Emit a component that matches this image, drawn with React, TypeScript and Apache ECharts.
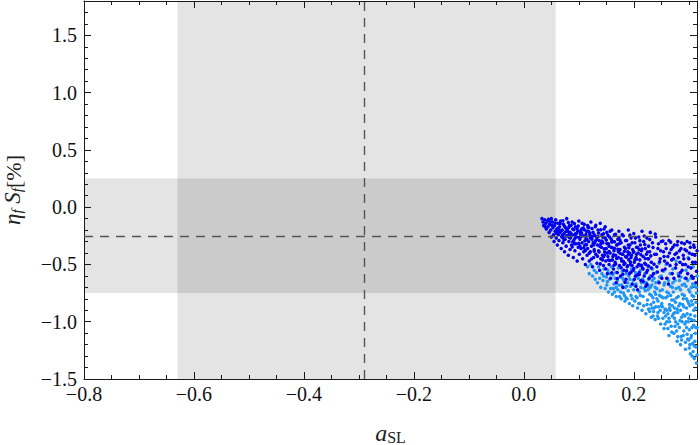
import React, { useEffect, useRef } from "react";
import * as echarts from "echarts";

// axis ranges and ticks
const X_MIN = -0.8;
const X_MAX = 0.315;
const X_MAJOR = 0.2;
const X_MINOR = 0.05;
const Y_MIN = -1.5;
const Y_MAX = 1.8;
const Y_MAJOR = 0.5;
const Y_MINOR = 0.1;

// shaded 1-sigma bands and central (dashed) values
const X_BAND = [-0.63, 0.058];
const Y_BAND = [-0.75, 0.25];
const X_CENTER = -0.29;
const Y_CENTER = -0.25;

// scan points (a_SL, eta_f S_f [%]) - dark blue set
const darkPoints: number[][] = [
  [0.033,-0.10],[0.035,-0.13],[0.036,-0.16],[0.038,-0.11],[0.04,-0.14],[0.041,-0.19],[0.043,-0.12],[0.044,-0.17],[0.046,-0.22],[0.047,-0.15],[0.049,-0.2],[0.05,-0.1],[0.05,-0.26],
  [0.052,-0.13],[0.053,-0.18],[0.054,-0.24],[0.055,-0.3],[0.056,-0.16],[0.057,-0.21],[0.058,-0.11],[0.059,-0.27],[0.06,-0.19],[0.061,-0.33],[0.062,-0.14],[0.063,-0.24],[0.064,-0.29],[0.065,-0.17],[0.066,-0.22],[0.067,-0.12],[0.068,-0.36],[0.069,-0.26],[0.07,-0.2],
  [0.071,-0.31],[0.072,-0.15],[0.073,-0.23],[0.074,-0.39],[0.075,-0.28],[0.076,-0.18],[0.077,-0.34],[0.078,-0.1],[0.079,-0.25],[0.08,-0.21],[0.081,-0.42],[0.082,-0.3],[0.083,-0.16],[0.084,-0.37],[0.085,-0.27],[0.086,-0.23],[0.087,-0.33],[0.088,-0.13],[0.089,-0.19],[0.09,-0.44],
  [0.091,-0.29],[0.092,-0.24],[0.093,-0.38],[0.094,-0.17],[0.095,-0.32],[0.096,-0.26],[0.097,-0.47],[0.098,-0.21],[0.099,-0.35],[0.1,-0.12],[0.101,-0.41],[0.102,-0.28],[0.103,-0.23],[0.104,-0.36],[0.105,-0.19],[0.106,-0.31],[0.107,-0.45],[0.108,-0.25],[0.109,-0.39],[0.11,-0.15],
  [0.111,-0.33],[0.112,-0.5],[0.113,-0.27],[0.114,-0.21],[0.115,-0.42],[0.116,-0.36],[0.117,-0.18],[0.118,-0.3],[0.119,-0.47],[0.12,-0.24],[0.121,-0.39],[0.122,-0.13],[0.123,-0.34],[0.124,-0.28],[0.125,-0.52],[0.126,-0.22],[0.127,-0.44],[0.128,-0.37],[0.129,-0.31],[0.13,-0.17],
  [0.131,-0.41],[0.132,-0.26],[0.133,-0.49],[0.134,-0.33],[0.135,-0.2],[0.136,-0.38],[0.137,-0.29],[0.138,-0.55],[0.139,-0.14],[0.14,-0.45],[0.141,-0.35],[0.142,-0.24],[0.143,-0.42],[0.144,-0.31],[0.145,-0.51],[0.146,-0.19],[0.147,-0.39],[0.148,-0.27],[0.149,-0.47],[0.15,-0.36],
  [0.151,-0.22],[0.152,-0.58],[0.153,-0.43],[0.154,-0.32],[0.155,-0.5],[0.156,-0.26],[0.157,-0.4],[0.158,-0.62],[0.159,-0.35],[0.16,-0.2],[0.161,-0.46],[0.162,-0.3],[0.163,-0.54],[0.164,-0.38],[0.165,-0.24],[0.166,-0.48],[0.167,-0.42],[0.168,-0.66],[0.169,-0.33],[0.17,-0.57],
  [0.171,-0.28],[0.172,-0.44],[0.173,-0.21],[0.174,-0.51],[0.175,-0.37],[0.176,-0.6],[0.177,-0.31],[0.178,-0.47],[0.179,-0.41],[0.18,-0.7],[0.181,-0.25],[0.182,-0.55],[0.183,-0.35],[0.184,-0.49],[0.185,-0.43],[0.186,-0.63],[0.187,-0.29],[0.188,-0.52],[0.189,-0.39],[0.19,-0.2],
  [0.191,-0.46],[0.192,-0.58],[0.193,-0.33],[0.194,-0.5],[0.195,-0.27],[0.196,-0.42],[0.197,-0.67],[0.198,-0.37],[0.199,-0.55],[0.2,-0.23],[0.201,-0.48],[0.202,-0.31],[0.203,-0.6],[0.204,-0.44],[0.205,-0.35],[0.206,-0.52],[0.207,-0.72],[0.208,-0.4],[0.209,-0.26],[0.21,-0.57],
  [0.211,-0.46],[0.212,-0.33],[0.213,-0.64],[0.214,-0.38],[0.215,-0.21],[0.216,-0.53],[0.217,-0.43],[0.218,-0.3],[0.219,-0.6],[0.22,-0.49],[0.221,-0.36],[0.222,-0.69],[0.223,-0.41],[0.224,-0.27],[0.225,-0.55],[0.226,-0.45],[0.227,-0.34],[0.228,-0.62],[0.229,-0.39],[0.23,-0.22],
  [0.232,-0.48],[0.234,-0.31],[0.236,-0.58],[0.238,-0.41],[0.24,-0.26],[0.242,-0.52],[0.244,-0.36],[0.246,-0.66],[0.248,-0.45],[0.25,-0.3],
  [0.252,-0.55],[0.254,-0.39],[0.256,-0.47],[0.258,-0.32],[0.26,-0.62],[0.262,-0.43],[0.264,-0.29],[0.266,-0.51],[0.268,-0.37],[0.27,-0.58],
  [0.272,-0.45],[0.274,-0.33],[0.276,-0.53],[0.278,-0.4],[0.28,-0.3],[0.282,-0.6],[0.284,-0.48],[0.286,-0.36],[0.288,-0.55],[0.29,-0.42],
  [0.292,-0.32],[0.294,-0.5],[0.296,-0.38],[0.298,-0.58],[0.3,-0.45],[0.302,-0.31],[0.304,-0.53],[0.306,-0.41],[0.308,-0.62],[0.31,-0.35],[0.312,-0.48],[0.314,-0.56],
  [0.045,-0.105],[0.048,-0.128],[0.039,-0.172],[0.051,-0.157],[0.057,-0.138],[0.062,-0.183],[0.059,-0.228],[0.066,-0.142],[0.071,-0.119],[0.068,-0.205],[0.074,-0.167],[0.077,-0.251],[0.073,-0.286],[0.081,-0.133],[0.079,-0.192],[0.084,-0.218],[0.086,-0.158],[0.083,-0.264],[0.089,-0.301],[0.092,-0.143],[0.088,-0.347],[0.094,-0.233],[0.097,-0.188],[0.093,-0.272],[0.1,-0.316],[0.099,-0.165],[0.103,-0.208],[0.106,-0.141],[0.104,-0.257],[0.108,-0.182],[0.111,-0.294],[0.113,-0.238],[0.109,-0.355],[0.116,-0.161],[0.114,-0.327],[0.118,-0.212],[0.121,-0.268],[0.119,-0.402],[0.124,-0.186],[0.126,-0.311],[0.123,-0.452],[0.129,-0.244],[0.131,-0.158],[0.128,-0.385],[0.133,-0.282],[0.136,-0.225],[0.134,-0.428],[0.138,-0.341],[0.14,-0.197],[0.142,-0.296],[0.139,-0.495],[0.144,-0.263],[0.146,-0.362],[0.148,-0.171],[0.145,-0.433],[0.151,-0.318],[0.153,-0.246],[0.149,-0.538],[0.155,-0.387],[0.157,-0.209],[0.154,-0.462],[0.159,-0.279],[0.161,-0.354],[0.163,-0.416],[0.16,-0.573],[0.165,-0.301],[0.167,-0.236],[0.164,-0.507],[0.169,-0.447],[0.171,-0.367],[0.173,-0.266],[0.17,-0.622],[0.175,-0.402],[0.177,-0.529],[0.174,-0.318],[0.179,-0.238],[0.181,-0.473],[0.183,-0.384],[0.18,-0.585],[0.185,-0.29],[0.187,-0.438],[0.184,-0.655],[0.189,-0.512],[0.191,-0.354],[0.193,-0.244],[0.19,-0.415],[0.195,-0.567],[0.197,-0.31],[0.194,-0.478],[0.199,-0.393],[0.201,-0.63],[0.203,-0.27],[0.2,-0.535],[0.205,-0.455],[0.207,-0.352],[0.204,-0.69],[0.209,-0.499],[0.211,-0.292],[0.213,-0.415],[0.21,-0.588],[0.215,-0.366],[0.217,-0.646],[0.214,-0.507],[0.219,-0.252],[0.221,-0.448],[0.223,-0.571],[0.22,-0.325],[0.225,-0.392],[0.227,-0.513],[0.224,-0.672],[0.229,-0.283],
  [0.231,-0.425],[0.233,-0.6],[0.235,-0.352],[0.237,-0.498],[0.239,-0.235],[0.241,-0.41],[0.243,-0.565],[0.245,-0.32],[0.247,-0.476],[0.249,-0.38],[0.251,-0.62],[0.253,-0.296],[0.255,-0.43],[0.257,-0.54],[0.259,-0.36],[0.261,-0.49],[0.263,-0.67],[0.265,-0.4],[0.267,-0.305],[0.269,-0.46],[0.271,-0.35],[0.273,-0.62],[0.275,-0.41],[0.277,-0.5],[0.279,-0.33],[0.281,-0.44],[0.283,-0.38],[0.285,-0.57],[0.287,-0.31],[0.289,-0.5],[0.291,-0.45],[0.293,-0.37],[0.295,-0.62],[0.297,-0.3],[0.299,-0.52],[0.301,-0.4],[0.303,-0.35],[0.305,-0.6],[0.307,-0.48],[0.309,-0.33],[0.311,-0.42],[0.313,-0.66],[0.315,-0.38],
  [0.064,-0.198],[0.07,-0.245],[0.076,-0.214],[0.082,-0.175],[0.087,-0.247],[0.091,-0.196],[0.096,-0.228],[0.101,-0.262],[0.105,-0.224],[0.11,-0.197],[0.115,-0.285],[0.12,-0.226],[0.125,-0.253],[0.13,-0.296],[0.135,-0.255],[0.14,-0.32],[0.145,-0.231],[0.15,-0.287],[0.155,-0.34],[0.16,-0.304],[0.165,-0.358],[0.17,-0.325],[0.175,-0.289],[0.18,-0.41],[0.185,-0.36],[0.19,-0.33],[0.195,-0.44],[0.2,-0.39],[0.205,-0.41],[0.21,-0.37],[0.118,-0.175],[0.127,-0.33],[0.137,-0.392],[0.147,-0.415],[0.157,-0.465],[0.167,-0.495],[0.177,-0.45],[0.187,-0.555],[0.197,-0.51],[0.207,-0.59],[0.217,-0.54],[0.227,-0.45],[0.112,-0.377],[0.102,-0.339],[0.092,-0.32],[0.082,-0.239],[0.072,-0.268],[0.062,-0.213],[0.143,-0.46],[0.152,-0.4],[0.162,-0.43],[0.172,-0.39],[0.182,-0.5],[0.192,-0.4],[0.202,-0.46],[0.212,-0.51],[0.222,-0.5],[0.232,-0.53],
];

// scan points - light blue set
const lightPoints: number[][] = [
  [0.116,-0.52],[0.119,-0.58],[0.122,-0.5],[0.125,-0.6],[0.128,-0.55],[0.13,-0.63],
  [0.132,-0.57],[0.134,-0.66],[0.136,-0.52],[0.138,-0.62],[0.14,-0.7],[0.142,-0.58],[0.144,-0.64],[0.146,-0.54],[0.148,-0.71],[0.15,-0.61],
  [0.151,-0.68],[0.153,-0.55],[0.154,-0.74],[0.156,-0.63],[0.158,-0.71],[0.159,-0.52],[0.161,-0.76],[0.162,-0.59],[0.164,-0.67],[0.165,-0.74],[0.167,-0.57],[0.168,-0.78],[0.17,-0.64],
  [0.171,-0.72],[0.172,-0.53],[0.174,-0.78],[0.175,-0.61],[0.177,-0.8],[0.178,-0.68],[0.179,-0.56],[0.181,-0.75],[0.182,-0.64],[0.184,-0.82],[0.185,-0.7],[0.186,-0.58],[0.188,-0.8],[0.189,-0.66],[0.19,-0.73],
  [0.191,-0.6],[0.192,-0.84],[0.194,-0.69],[0.195,-0.77],[0.196,-0.54],[0.198,-0.86],[0.199,-0.64],[0.2,-0.72],[0.202,-0.82],[0.203,-0.57],[0.204,-0.67],[0.206,-0.79],[0.207,-0.88],[0.208,-0.62],[0.21,-0.74],
  [0.211,-0.84],[0.212,-0.55],[0.213,-0.7],[0.215,-0.9],[0.216,-0.63],[0.217,-0.78],[0.218,-0.86],[0.22,-0.58],[0.221,-0.73],[0.222,-0.93],[0.223,-0.66],[0.225,-0.81],[0.226,-0.52],[0.227,-0.89],[0.228,-0.69],[0.229,-0.76],[0.23,-0.6],
  [0.231,-0.85],[0.232,-0.96],[0.233,-0.68],[0.234,-0.54],[0.235,-0.79],[0.236,-0.91],[0.237,-0.62],[0.238,-0.74],[0.239,-0.98],[0.24,-0.87],[0.241,-0.57],[0.242,-0.71],[0.243,-0.95],[0.244,-0.82],[0.245,-0.65],[0.246,-0.49],[0.247,-0.77],[0.248,-0.9],[0.249,-1.02],[0.25,-0.6],
  [0.251,-0.84],[0.252,-0.72],[0.253,-0.97],[0.254,-0.56],[0.255,-1.06],[0.256,-0.66],[0.257,-0.89],[0.258,-0.79],[0.259,-0.5],[0.26,-1.0],[0.261,-0.62],[0.262,-0.93],[0.263,-0.75],[0.264,-1.12],[0.265,-0.85],[0.266,-0.58],[0.267,-0.69],[0.268,-1.04],[0.269,-0.81],[0.27,-0.95],
  [0.271,-0.54],[0.272,-0.74],[0.273,-1.1],[0.274,-0.88],[0.275,-0.64],[0.276,-1.0],[0.277,-0.47],[0.278,-0.79],[0.279,-1.17],[0.28,-0.92],[0.281,-0.58],[0.282,-0.7],[0.283,-1.05],[0.284,-0.84],[0.285,-1.2],[0.286,-0.61],[0.287,-0.96],[0.288,-0.76],[0.289,-0.5],[0.29,-1.12],
  [0.291,-0.87],[0.292,-0.67],[0.293,-1.02],[0.294,-1.24],[0.295,-0.55],[0.296,-0.8],[0.297,-0.93],[0.298,-1.15],[0.299,-0.44],[0.3,-0.72],[0.301,-1.07],[0.302,-0.86],[0.303,-1.28],[0.304,-0.62],[0.305,-0.98],[0.306,-0.77],[0.307,-1.19],[0.308,-0.52],[0.309,-0.9],[0.31,-1.32],[0.311,-0.69],[0.312,-1.1],[0.313,-0.83],[0.314,-1.36],[0.315,-0.6],
  [0.226,-0.72],[0.233,-0.88],[0.24,-0.66],[0.244,-0.92],[0.252,-0.87],[0.257,-1.02],[0.261,-0.78],[0.266,-0.9],[0.27,-0.7],[0.274,-0.97],[0.278,-1.08],[0.282,-0.86],[0.286,-1.13],[0.29,-0.8],[0.293,-0.62],[0.296,-1.05],[0.3,-0.97],[0.302,-1.2],[0.305,-0.7],[0.307,-0.85],[0.309,-1.03],[0.311,-0.95],[0.313,-1.22],[0.314,-0.75],[0.298,-0.82],[0.288,-1.0],[0.276,-0.83],[0.264,-0.97],[0.248,-0.73],[0.236,-0.83],[0.204,-0.78],[0.186,-0.79],[0.168,-0.7],
  [0.145,-0.6],[0.152,-0.65],[0.157,-0.58],[0.163,-0.71],[0.166,-0.62],[0.173,-0.68],[0.176,-0.74],[0.18,-0.62],[0.183,-0.77],[0.187,-0.69],[0.193,-0.63],[0.197,-0.8],[0.201,-0.68],[0.205,-0.6],[0.209,-0.84],[0.212,-0.77],[0.214,-0.66],[0.219,-0.71],[0.224,-0.85],[0.227,-0.63],[0.229,-0.91],[0.232,-0.77],[0.234,-0.64],[0.237,-0.88],[0.239,-0.7],[0.242,-0.8],[0.245,-0.97],[0.247,-0.61],[0.25,-0.86],[0.253,-0.79],[0.255,-0.68],[0.258,-0.95],[0.26,-0.74],[0.262,-1.06],[0.263,-0.64],[0.265,-0.88],[0.267,-0.77],[0.269,-1.09],[0.271,-0.66],[0.272,-0.93],[0.273,-0.81],[0.275,-1.04],[0.277,-0.71],[0.279,-0.89],[0.28,-1.13],[0.281,-0.78],[0.283,-0.64],[0.284,-0.99],[0.285,-0.9],[0.287,-1.16],[0.288,-0.68],[0.289,-0.85],[0.291,-1.08],[0.292,-0.77],[0.293,-0.95],[0.294,-1.18],[0.295,-0.69],[0.296,-0.88],[0.297,-1.11],[0.298,-0.64],[0.299,-1.0],[0.3,-0.84],[0.301,-1.23],[0.302,-0.74],[0.303,-0.94],[0.304,-1.14],[0.305,-0.82],[0.306,-1.05],[0.307,-0.67],[0.308,-1.26],[0.309,-0.78],[0.31,-0.99],[0.311,-1.17],[0.312,-0.88],[0.313,-1.05],[0.314,-0.7],[0.315,-1.29],[0.306,-1.3],[0.31,-1.21],[0.3,-1.16],[0.29,-0.94],[0.28,-1.02],[0.27,-0.86],[0.26,-0.9],[0.25,-0.78],[0.24,-0.76],[0.23,-0.7],[0.22,-0.66],[0.285,-0.72],[0.295,-1.0],[0.305,-1.12],[0.315,-1.05],[0.275,-0.92],[0.265,-1.0],[0.255,-0.92],[0.245,-0.87],[0.235,-0.95],
];

const SERIF = "Liberation Serif";
const FRAME = "#1a1a1a";

function fmt(step: number) {
  return (v: number) => {
    const k = v / step;
    if (Math.abs(k - Math.round(k)) > 1e-6) return "";
    const s = Math.abs(v).toFixed(1);
    return v < -1e-9 ? "\u2212" + s : s;
  };
}

export default function App() {
  const ref = useRef<HTMLDivElement>(null);
  useEffect(() => {
    if (!ref.current) return;
    const chart = echarts.init(ref.current, undefined, { renderer: "svg" });
    const tickStyle = { color: FRAME, width: 1 };
    const mkX = (position: string, interval: number, major: boolean, extra: any = {}) => ({
      type: "value",
      min: X_MIN,
      max: X_MAX,
      interval,
      position,
      axisLine: { show: major, onZero: false, lineStyle: { color: FRAME, width: 1 } },
      axisTick: { show: true, inside: true, length: major ? 7 : 4, lineStyle: tickStyle },
      axisLabel: { show: false },
      splitLine: { show: false },
      ...extra,
    });
    const mkY = (position: string, interval: number, major: boolean, extra: any = {}) => ({
      type: "value",
      min: Y_MIN,
      max: Y_MAX,
      interval,
      position,
      axisLine: { show: major, onZero: false, lineStyle: { color: FRAME, width: 1 } },
      axisTick: { show: true, inside: true, length: major ? 7 : 4, lineStyle: tickStyle },
      axisLabel: { show: false },
      splitLine: { show: false },
      ...extra,
    });
    chart.setOption({
      animation: false,
      backgroundColor: "#ffffff",
      textStyle: { fontFamily: SERIF },
      grid: {
        left: 84,
        right: 3,
        top: 1,
        bottom: 66,
        show: false,
        containLabel: false,
        outerBoundsMode: "none",
      },
      xAxis: [
        mkX("bottom", X_MAJOR, true, {
          axisLabel: {
            show: true,
            formatter: fmt(X_MAJOR),
            fontFamily: SERIF,
            fontSize: 20,
            color: "#111",
            margin: 5,
          },
          name: "{i|a}{s|SL}",
          nameLocation: "middle",
          nameGap: 36,
          nameTextStyle: {
            fontFamily: SERIF,
            rich: {
              i: { fontFamily: SERIF, fontStyle: "italic", fontSize: 24, color: "#222", lineHeight: 30, verticalAlign: "bottom" },
              s: { fontFamily: SERIF, fontSize: 16, color: "#222", lineHeight: 14, verticalAlign: "bottom" },
            },
          },
        }),
        mkX("bottom", X_MINOR, false),
        mkX("top", X_MAJOR, true),
        mkX("top", X_MINOR, false),
      ],
      yAxis: [
        mkY("left", Y_MAJOR, true, {
          axisLabel: {
            show: true,
            formatter: fmt(Y_MAJOR),
            fontFamily: SERIF,
            fontSize: 20,
            color: "#111",
            margin: 7,
          },
          name: "{i|\u03B7}{s|f}{i| S}{s|f}{r|[%]}",
          nameLocation: "middle",
          nameRotate: 90,
          nameGap: 60,
          nameTextStyle: {
            fontFamily: SERIF,
            rich: {
              i: { fontFamily: SERIF, fontStyle: "italic", fontSize: 23, color: "#222", lineHeight: 28, verticalAlign: "bottom" },
              r: { fontFamily: SERIF, fontSize: 22, color: "#222", lineHeight: 28, verticalAlign: "bottom" },
              s: { fontFamily: SERIF, fontStyle: "italic", fontSize: 15, color: "#222", lineHeight: 14, verticalAlign: "bottom" },
            },
          },
        }),
        mkY("left", Y_MINOR, false),
        mkY("right", Y_MAJOR, true),
        mkY("right", Y_MINOR, false),
      ],
      series: [
        {
          type: "scatter",
          data: [],
          z: 1,
          silent: true,
          markArea: {
            silent: true,
            itemStyle: { color: "rgba(0,0,0,0.105)" },
            data: [
              [{ xAxis: X_BAND[0] }, { xAxis: X_BAND[1] }],
              [{ yAxis: Y_BAND[0] }, { yAxis: Y_BAND[1] }],
            ],
          },
        },
        {
          type: "scatter",
          data: lightPoints,
          z: 2,
          symbol: "circle",
          symbolSize: 3.5,
          itemStyle: { color: "#1f96f5", opacity: 1 },
          silent: true,
        },
        {
          type: "scatter",
          data: darkPoints,
          z: 3,
          symbol: "circle",
          symbolSize: 3.5,
          itemStyle: { color: "#0000f0", opacity: 1 },
          silent: true,
        },
        {
          type: "scatter",
          data: [],
          z: 5,
          silent: true,
          markLine: {
            silent: true,
            symbol: "none",
            label: { show: false },
            lineStyle: { color: "#555", width: 1.4, type: [9, 7] },
            data: [{ xAxis: X_CENTER }, { yAxis: Y_CENTER }],
          },
        },
      ],
    });
    return () => chart.dispose();
  }, []);
  return (
    <div
      ref={ref}
      style={{ position: "absolute", left: 0, top: 0, width: 700, height: 445, background: "#fff" }}
    />
  );
}
